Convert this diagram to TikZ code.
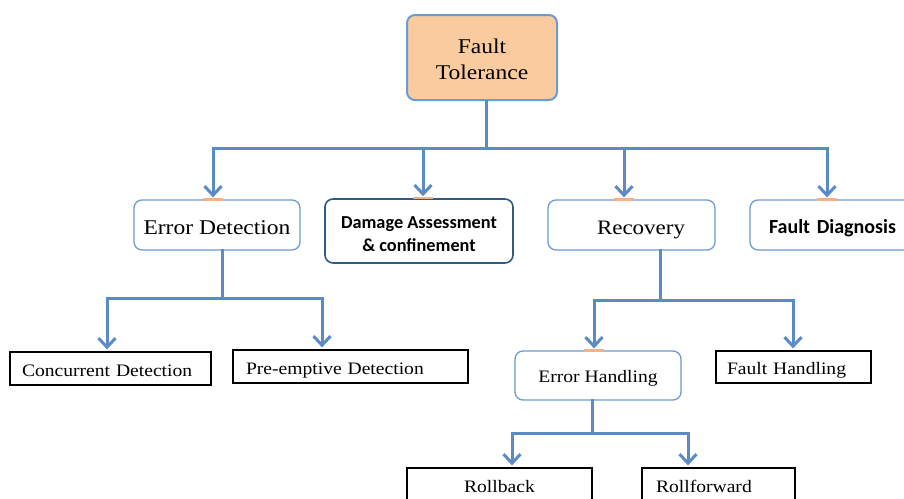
\documentclass[tikz,border=0pt]{standalone}
\usepackage{fontspec}
\newfontfamily\textserif[FakeStretch=1.12]{Liberation Serif}
\newfontfamily\textsans{Carlito}
\usetikzlibrary{arrows.meta}
\definecolor{linkblue}{HTML}{5B8BC6}
\definecolor{boxblue}{HTML}{6C9BD2}
\definecolor{darkblue}{HTML}{2E5A88}
\definecolor{peach}{HTML}{F9CB9F}
\definecolor{tickorange}{HTML}{F4B183}

\begin{document}
\begin{tikzpicture}[x=1pt,y=-1pt,
  rbox/.style={draw=boxblue, line width=1.3pt, rounded corners=8pt, fill=white, inner sep=0pt, align=center},
  sbox/.style={draw=black, line width=1.3pt, fill=white, inner sep=0pt, align=left},
  bigserif/.style={font=\textserif\fontsize{21}{26}\selectfont},
  smallserif/.style={font=\textserif\fontsize{17.5}{20}\selectfont, text height=18pt, text depth=2pt},
  boldsans/.style={font=\textsans\bfseries\fontsize{18.3}{23}\selectfont},
  link/.style={draw=linkblue, line width=3pt, line cap=rect},
  arr/.style={link, -{Straight Barb[length=9pt,width=17pt]}, shorten >=2pt},
  tickline/.style={draw=tickorange, line width=2.5pt}
]
\useasboundingbox (0,0) rectangle (904,498);

% root
\node[rbox, fill=peach, line width=2pt, minimum width=150pt, minimum height=85pt, bigserif] (ft) at (482,57.5) {\rule{0pt}{18.3pt}Fault\\Tolerance};

% first level
\node[rbox, minimum width=166pt, minimum height=50pt, bigserif, text height=20pt, text depth=2pt] (ed) at (217,225) {Error Detection};
\node[rbox, draw=darkblue, line width=1.6pt, minimum width=188pt, minimum height=64pt, boldsans] (da) at (419,231) {\rule{0pt}{18pt}Damage Assessment\\\& confinement};
\node[rbox, minimum height=50pt, text width=167pt, align=left, font=\textserif\fontsize{20.5}{25}\selectfont, text height=21pt, text depth=2pt] (rec) at (631.5,225) {\hspace*{49pt}Recovery};
\node[rbox, minimum height=50pt, text width=165pt, align=left, font=\textsans\bfseries\fontsize{20}{24}\selectfont, text height=18pt, text depth=2pt] (fd) at (832.5,225) {\hspace*{19pt}Fault Diagnosis};

% second level
\node[sbox, minimum height=33pt, text width=201pt, smallserif] (cd) at (110.5,368.5) {\hspace*{12pt}Concurrent Detection};
\node[sbox, minimum height=33pt, text width=235pt, smallserif] (pe) at (350.5,366.5) {\hspace*{13pt}Pre-emptive Detection};
\node[rbox, minimum width=166pt, minimum height=49pt, smallserif, text height=16pt] (eh) at (598,375.5) {Error Handling};
\node[sbox, minimum height=32pt, text width=155pt, smallserif, text height=17pt] (fh) at (793.5,367) {\hspace*{11pt}Fault Handling};

% third level
\node[sbox, minimum height=36pt, minimum width=185pt, align=center, smallserif, text height=14pt] (rb) at (499.5,486) {Rollback};
\node[sbox, minimum height=36pt, text width=153pt, smallserif, text height=14pt] (rf) at (718.5,486) {\hspace*{14pt}Rollforward};

% junction points
\coordinate (t0) at (486,148);
\coordinate (t1) at (213,148);
\coordinate (t2) at (423,148);
\coordinate (t3) at (624,148);
\coordinate (t4) at (827,148);
\coordinate (e0) at (222,298);
\coordinate (e1) at (107,298);
\coordinate (e2) at (322,298);
\coordinate (r0) at (660,300);
\coordinate (r1) at (594,300);
\coordinate (r2) at (793,300);
\coordinate (h0) at (592,433);
\coordinate (h1) at (512,433);
\coordinate (h2) at (688,433);

% orange attachment marks
\draw[tickline] ([xshift=-10pt]t1 |- ed.north) -- ++(20,0);
\draw[tickline] ([xshift=-10pt]t2 |- da.north) -- ++(20,0);
\draw[tickline] ([xshift=-10pt]t3 |- rec.north) -- ++(20,0);
\draw[tickline] ([xshift=-10pt]t4 |- fd.north) -- ++(20,0);
\draw[tickline] ([xshift=-10pt]r1 |- eh.north) -- ++(20,0);

% root to first level
\draw[link] (ft.south -| t0) -- (t0);
\draw[link] (t1) -- (t4);
\draw[arr] (t1) -- (t1 |- ed.north);
\draw[arr] (t2) -- (t2 |- da.north);
\draw[arr] (t3) -- (t3 |- rec.north);
\draw[arr] (t4) -- (t4 |- fd.north);

% error detection branch
\draw[link] (ed.south -| e0) -- (e0);
\draw[link] (e1) -- (e2);
\draw[arr] (e1) -- (e1 |- cd.north);
\draw[arr] (e2) -- (e2 |- pe.north);

% recovery branch
\draw[link] (rec.south -| r0) -- (r0);
\draw[link] (r1) -- (r2);
\draw[arr] (r1) -- (r1 |- eh.north);
\draw[arr] (r2) -- (r2 |- fh.north);

% error handling branch
\draw[link] (eh.south -| h0) -- (h0);
\draw[link] (h1) -- (h2);
\draw[arr] (h1) -- (h1 |- rb.north);
\draw[arr] (h2) -- (h2 |- rf.north);
\end{tikzpicture}
\end{document}
